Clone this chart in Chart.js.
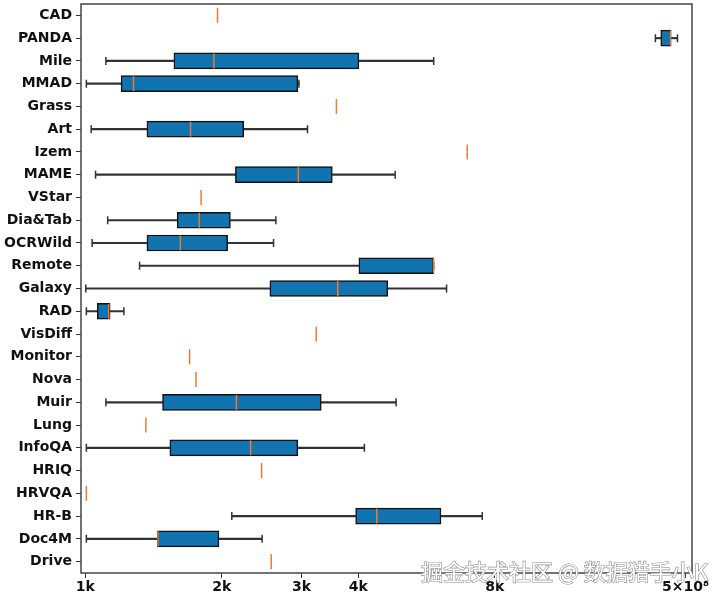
<!DOCTYPE html>
<html>
<head>
<meta charset="utf-8">
<script src="https://cdn.jsdelivr.net/npm/chart.js@4/dist/chart.umd.min.js"></script>
<style>
    html, body { margin: 0; padding: 0; background: #fff; }
    #wrap { width: 720px; height: 602px; position: relative; }
</style>
</head>
<body>
<div id="wrap"><canvas id="boxChart"></canvas></div>
<script>
// Categories, top to bottom
const categories = ['CAD', 'PANDA', 'Mile', 'MMAD', 'Grass', 'Art', 'Izem', 'MAME', 'VStar', 'Dia&Tab',
    'OCRWild', 'Remote', 'Galaxy', 'RAD', 'VisDiff', 'Monitor', 'Nova', 'Muir', 'Lung', 'InfoQA',
    'HRIQ', 'HRVQA', 'HR-B', 'Doc4M', 'Drive'];

// Box plot statistics (null = only a median line)
const whiskerLow  = [null, 18100, 1110, 1005, null, 1030, null, 1053, null, 1120, 1035, 1317, 1002, 1005, null, null, null, 1110, null, 1005, null, null, 2104, 1005, null];
const q1          = [null, 18600, 1568, 1199, null, 1367, null, 2143, null, 1594, 1367, 4013, 2553, 1062, null, null, null, 1480, null, 1536, null, null, 3948, 1442, null];
const medians     = [1957, 19550, 1921, 1277, 3580, 1706, 6958, 2950, 1800, 1783, 1620, 5868, 3605, 1126, 3231, 1698, 1754, 2154, 1360, 2315, 2448, 1005, 4395, 1446, 2571];
const q3          = [null, 19600, 4013, 2943, null, 2235, null, 3506, null, 2089, 2060, 5868, 4648, 1134, null, null, null, 3315, null, 2943, null, null, 6091, 1971, null];
const whiskerHigh = [null, 20250, 5868, 2960, null, 3091, null, 4826, null, 2632, 2601, 5868, 6265, 1216, null, null, null, 4848, null, 4127, null, null, 7512, 2454, null];

// x axis ticks
const xTickValues = [1000, 2000, 3000, 4000, 8000, 21100];
const xTickLabels = ['1k', '2k', '3k', '4k', '8k', '5×10⁸'];

const pairs = (a, b) => a.map((v, i) => (v === null ? null : [v, b[i]]));
const points = (arr) => arr.map((v, i) => (v === null ? null : { x: v, y: categories[i] })).filter(p => p);

const boxBlue = '#1173b0';
const medianOrange = '#f07a30';
const lineDark = '#333333';

// frame around the plot area + watermark
const framePlugin = {
    id: 'frame',
    afterDraw(chart) {
        const { ctx, chartArea: a } = chart;
        ctx.save();
        ctx.strokeStyle = '#444';
        ctx.lineWidth = 1.5;
        ctx.strokeRect(a.left, a.top, a.right - a.left, a.bottom - a.top);
        ctx.font = '22px "Noto Sans CJK SC"';
        ctx.textBaseline = 'alphabetic';
        ctx.lineWidth = 1.2;
        ctx.strokeStyle = '#8a8a8a';
        ctx.fillStyle = '#ffffff';
        ctx.strokeText('掘金技术社区 @ 数据猎手小K', 421, 580);
        ctx.fillText('掘金技术社区 @ 数据猎手小K', 421, 580);
        ctx.restore();
    }
};

const ctx = document.getElementById('boxChart').getContext('2d');
new Chart(ctx, {
    type: 'bar',
    data: {
        labels: categories,
        datasets: [
            {
                label: 'whisker',
                data: pairs(whiskerLow, whiskerHigh),
                backgroundColor: lineDark,
                borderWidth: 0,
                barThickness: 1.5,
                grouped: false,
                order: 4
            },
            {
                label: 'box',
                data: pairs(q1, q3),
                backgroundColor: boxBlue,
                borderColor: '#111',
                borderWidth: 1.5,
                borderSkipped: false,
                barThickness: 16,
                grouped: false,
                order: 3
            },
            {
                type: 'scatter',
                label: 'caps',
                data: points(whiskerLow).concat(points(whiskerHigh)),
                pointStyle: 'line',
                rotation: 90,
                pointRadius: 4,
                pointBorderColor: lineDark,
                pointBorderWidth: 1.5,
                order: 2
            },
            {
                type: 'scatter',
                label: 'median',
                data: points(medians),
                pointStyle: 'line',
                rotation: 90,
                pointRadius: 7.5,
                pointBorderColor: medianOrange,
                pointBorderWidth: 1.5,
                order: 1
            }
        ]
    },
    options: {
        indexAxis: 'y',
        responsive: true,
        maintainAspectRatio: false,
        animation: false,
        layout: { autoPadding: false, padding: { top: 4, right: 28, left: 0, bottom: 0 } },
        plugins: {
            legend: { display: false },
            tooltip: { enabled: false }
        },
        scales: {
            x: {
                type: 'logarithmic',
                min: 978,
                max: 21800,
                afterBuildTicks: (scale) => {
                    scale.ticks = xTickValues.map(v => ({ value: v }));
                },
                afterFit: (scale) => { scale.height = 29; },
                border: { display: false },
                grid: {
                    drawOnChartArea: false,
                    tickLength: 5,
                    color: lineDark
                },
                ticks: {
                    autoSkip: false,
                    maxRotation: 0,
                    padding: 1,
                    color: '#111',
                    font: { family: 'DejaVu Sans', weight: 'bold', size: 14 },
                    callback: (v, i) => xTickLabels[i]
                }
            },
            y: {
                type: 'category',
                afterFit: (scale) => {
                    scale.width = 81;
                    scale.paddingTop = 0;
                    scale.paddingBottom = 0;
                },
                border: { display: false },
                grid: {
                    offset: false,
                    drawOnChartArea: false,
                    tickLength: 5,
                    color: lineDark
                },
                ticks: {
                    autoSkip: false,
                    padding: 4,
                    color: '#111',
                    font: { family: 'DejaVu Sans', weight: 'bold', size: 14 }
                }
            }
        }
    },
    plugins: [framePlugin]
});
</script>
</body>
</html>
